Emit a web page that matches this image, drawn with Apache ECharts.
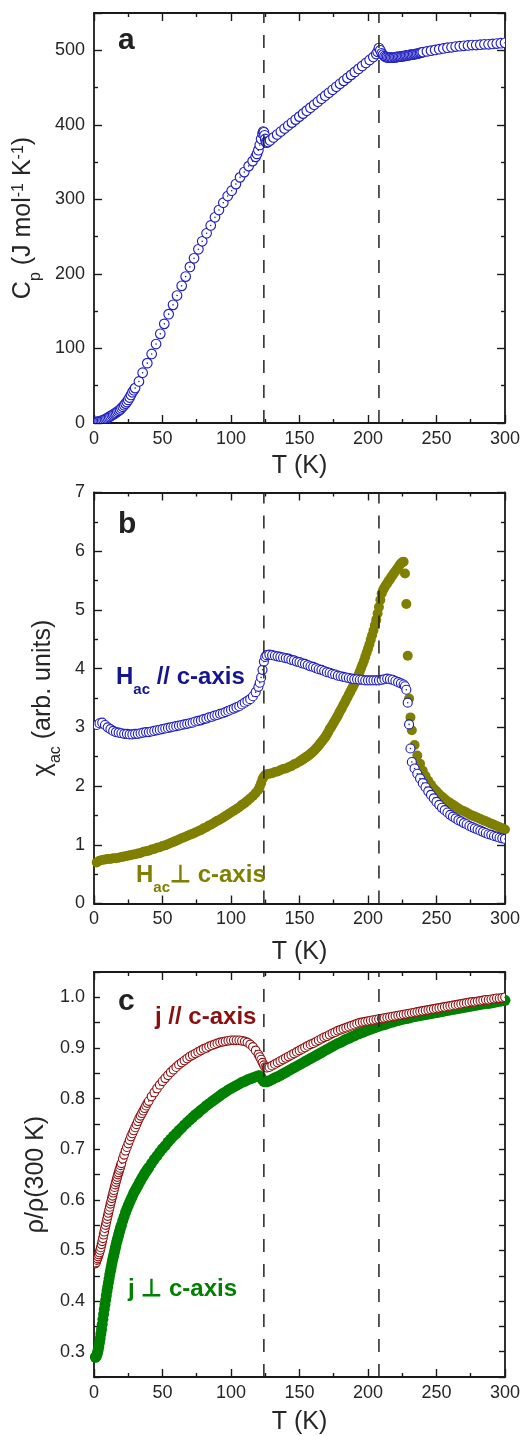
<!DOCTYPE html>
<html><head><meta charset="utf-8">
<script src="https://cdn.jsdelivr.net/npm/echarts@6/dist/echarts.min.js"></script>
<style>html,body{margin:0;padding:0;background:#fff;overflow:hidden}#c{width:523px;height:1436px}.probe{position:absolute;left:-3000px;top:0;width:523px;height:1436px}</style>
</head><body><div id="c"></div>
<script>
// ---------- DATA ----------
const transitionT = [124, 208];
const cpTicks = [0, 100, 200, 300, 400, 500];
const rhoMajorTicks = [0.3, 0.4, 0.5, 0.6, 0.7, 0.8, 0.9, 1.0];

// panel a : heat capacity
const tempA = [1,2,3,4,5,6,7,8,9,10,11,12,13,14,15,16,17,18,19,20,21,22,23,24,25,26,27,28,29,30,
32.8,35.5,38.9,42.1,45.3,48.4,51.3,54.5,57.7,60.6,64,66.9,70,73,76.2,79,82.2,85.2,88.3,91.2,94.4,97.6,100.5,103.6,106.6,109.7,112.9,115.8,
118,119,120,121,122,123,123.5,124,124.5,125,125.5,126,127,128.5,
131,133.7,136.4,139.1,141.8,144.5,147.2,149.9,152.6,155.3,158,160.7,163.4,166.1,168.8,171.5,174.2,176.9,179.6,182.3,185,187.7,190.4,193.1,195.8,198.5,201.2,203.9,
206,207,208,209,210,211,212,213,214,215,216,217,218,219,220,221,222,223,224,225,226,227,228,229,230,231,232,233,234,235,236,237,238,239,240,
243,246,249,252,255,258,261,264,267,270,273,276,279,282,285,288,291,294,297,300];
const cpA = [1.2,1.5,1.8,2.2,2.7,3.3,4.0,4.9,5.9,7.0,8.1,9.2,10.3,11.4,12.6,13.8,15.0,16.4,18.0,19.8,21.7,23.8,26.0,28.3,31.0,34.2,37.6,41.2,44.0,46.8,
55.7,67.5,80.3,92.6,105.9,119.6,133,146,158.5,171,184,196.4,209.4,221,233,243.8,254.5,265,276,285.7,295.5,304.5,311.6,320.5,329.5,336.6,344.6,351.3,
357,361,366,373,381,388,391,390,386,381,377,376,377,379,
383,387,391,395,399,403,407,411,415,419,423,427,431,435,439,443,447,451,455,459,463,467,471,475,479,483,487,491,
495,498,503,500,496,494,492,491,490.5,490,490,490,490,490.5,490.5,491,491,491.5,491.5,492,492,492.5,493,493,493.5,494,494,494.5,495,495,495.5,496,496.5,497,497.5,
498.5,499.5,500.5,501.5,502.5,503.5,504,505,505.5,506,506.5,507,507,507.5,508,508,508.5,509,509.5,510];

// panel b : ac susceptibility, H // c
const tempPara = [2,4,6,8,10,12,14,16,18,20,22,24,26,28,30,32,34,36,38,40,42,44,46,48,50,52,54,56,58,60,62,64,66,68,70,72,74,76,78,80,82,84,86,88,90,92,94,96,98,100,102,104,106,108,110,112,114,116,118,120,
121,122,123,124,125,126,
128,130,132,134,136,138,140,142,144,146,148,150,152,154,156,158,160,162,164,166,168,170,172,174,176,178,180,182,184,186,188,190,192,194,196,198,200,202,204,206,208,210,212,214,216,218,220,222,224,226,
227,228,229,230,231,232,
234,236,238,240,242,244,246,248,250,252,254,256,258,260,262,264,266,268,270,272,274,276,278,280,282,284,286,288,290,292,294,296,298,300];
const chiPara = [3.04,3.07,3.08,3.04,3.00,2.97,2.94,2.92,2.91,2.90,
2.89,2.89,2.88,2.88,2.89,2.89,2.90,2.91,2.92,2.92,
2.93,2.94,2.95,2.96,2.97,2.98,2.99,3.00,3.01,3.02,
3.03,3.04,3.05,3.06,3.07,3.08,3.10,3.11,3.12,3.14,
3.15,3.17,3.18,3.20,3.21,3.23,3.24,3.26,3.28,3.30,
3.32,3.34,3.36,3.39,3.42,3.45,3.48,3.53,3.60,3.69,
3.76,3.85,3.98,4.12,4.20,4.23,
4.24,4.23,4.22,4.21,4.20,4.19,4.18,4.17,4.15,4.14,
4.12,4.11,4.09,4.08,4.06,4.04,4.03,4.01,3.99,3.98,
3.96,3.94,3.93,3.91,3.90,3.88,3.87,3.86,3.85,3.84,
3.83,3.82,3.82,3.81,3.81,3.80,3.80,3.80,3.80,3.80,
3.80,3.81,3.82,3.83,3.82,3.81,3.79,3.77,3.75,3.73,
3.70,3.64,3.42,3.05,2.64,2.41,
2.30,2.21,2.13,2.05,1.98,1.91,1.85,1.79,1.73,1.68,
1.63,1.59,1.55,1.51,1.48,1.45,1.42,1.40,1.37,1.35,
1.32,1.30,1.28,1.26,1.24,1.22,1.20,1.18,1.17,1.15,
1.14,1.12,1.11,1.10];
// panel b : H perpendicular to c
const tempPerp = [2,4,6,8,10,12,14,16,18,20,22,24,26,28,30,32,34,36,38,40,42,44,46,48,50,52,54,56,58,60,62,64,66,68,70,72,74,76,78,80,82,84,86,88,90,92,94,96,98,100,102,104,106,108,110,112,114,116,118,120,
121,122,123,124,125,126,
128,130,132,134,136,138,140,142,144,146,148,
150,151,152,153,154,155,156,157,158,159,160,161,162,163,164,165,166,167,168,169,170,171,172,173,174,175,176,177,178,179,180,181,182,183,184,185,186,187,188,189,190,191,192,193,194,195,196,197,198,199,200,201,202,203,204,205,206,207,208,209,210,211,212,213,214,215,216,217,218,219,220,221,222,223,224,225,226,
227,228,229,230,231,232,
234,236,238,240,242,244,246,248,250,252,254,256,258,260,262,264,266,268,270,272,274,276,278,280,282,284,286,288,290,292,294,296,298,300];
const chiPerp = [0.70,0.73,0.74,0.75,0.76,0.76,0.77,0.77,0.78,0.79,
0.80,0.81,0.82,0.83,0.84,0.85,0.86,0.88,0.89,0.90,
0.92,0.93,0.95,0.96,0.98,0.99,1.01,1.03,1.05,1.07,
1.09,1.11,1.13,1.15,1.17,1.19,1.21,1.23,1.25,1.28,
1.30,1.33,1.35,1.38,1.41,1.43,1.46,1.49,1.52,1.55,
1.58,1.61,1.64,1.68,1.71,1.75,1.79,1.83,1.88,1.94,
1.99,2.05,2.12,2.16,2.19,2.20,
2.21,2.22,2.24,2.25,2.27,2.29,2.30,2.32,2.34,2.37,2.39,
2.42,2.43,2.45,2.46,2.48,2.50,2.51,2.53,2.55,2.57,
2.59,2.61,2.64,2.66,2.69,2.72,2.75,2.78,2.81,2.84,
2.88,2.92,2.97,3.00,3.04,3.08,3.12,3.16,3.20,3.25,
3.29,3.33,3.38,3.42,3.47,3.51,3.56,3.60,3.65,3.69,
3.74,3.79,3.84,3.89,3.95,4.01,4.07,4.13,4.20,4.27,
4.34,4.41,4.49,4.57,4.65,4.74,4.83,4.94,5.05,5.17,
5.28,5.34,5.38,5.42,5.45,5.49,5.52,5.56,5.59,5.63,
5.66,5.69,5.72,5.76,5.79,5.81,5.82,
5.62,5.10,4.22,3.49,3.17,2.95,
2.70,2.52,2.38,2.26,2.17,2.09,2.02,1.96,1.91,1.86,
1.82,1.78,1.74,1.71,1.68,1.65,1.62,1.59,1.57,1.55,
1.52,1.50,1.48,1.46,1.44,1.42,1.40,1.38,1.36,1.34,
1.32,1.30,1.28,1.26];

// panel c : normalised resistivity
const tempC = [1,1.5,2,2.5,3,3.5,4,4.5,5,5.5,6,6.5,7,7.5,8,8.5,9,9.5,10,10.5,11,11.5,12,12.5,13,13.5,14,14.5,15,15.5,16,16.5,17,17.5,18,18.5,19,19.5,20,
21,22,23,24,25,26,27,28,29,30,31,32,33,34,35,36,37,38,39,40,
42,44,46,48,50,52,54,56,58,60,62,64,66,68,70,72,74,76,78,80,82,84,86,88,90,92,94,96,98,100,102,104,106,108,110,112,114,116,118,120,
121,122,123,124,125,126,
128,130,132,134,136,138,140,142,144,146,148,150,152,154,156,158,160,162,164,166,168,170,172,174,176,178,180,182,184,186,188,190,192,194,196,198,200,202,204,206,208,210,212,214,216,218,220,222,224,226,228,230,232,234,236,238,240,242,244,246,248,250,252,254,256,258,260,262,264,266,268,270,272,274,276,278,280,282,284,286,288,290,292,294,296,298,300];
const rhoPara = [0.474,0.476,0.481,0.484,0.488,0.492,0.496,0.501,0.506,0.512,0.518,0.524,0.531,0.537,0.544,0.550,0.556,0.562,0.568,0.574,
0.580,0.586,0.592,0.597,0.603,0.608,0.614,0.619,0.625,0.630,0.635,0.640,0.645,0.650,0.654,0.659,0.663,0.668,0.672,
0.681,0.689,0.697,0.704,0.711,0.718,0.725,0.731,0.737,0.743,0.749,0.755,0.761,0.766,0.771,0.776,0.781,0.786,0.791,0.795,
0.804,0.812,0.820,0.827,0.834,0.840,0.846,0.852,0.857,0.862,
0.867,0.871,0.875,0.879,0.883,0.886,0.889,0.892,0.895,0.898,
0.900,0.903,0.905,0.907,0.909,0.911,0.912,0.913,0.914,0.915,
0.915,0.915,0.915,0.914,0.913,0.911,0.907,0.902,0.895,0.887,
0.882,0.877,0.871,0.866,0.862,0.861,
0.862,0.865,0.868,0.871,0.874,0.877,0.880,0.883,0.886,0.889,
0.892,0.895,0.898,0.901,0.904,0.907,0.909,0.912,0.915,0.918,
0.921,0.923,0.926,0.929,0.931,0.934,0.936,0.938,0.940,0.942,
0.944,0.946,0.948,0.950,0.951,0.952,0.953,0.954,0.955,0.956,
0.957,0.958,0.959,0.960,0.961,0.962,0.963,0.964,0.965,0.966,
0.967,0.968,0.969,0.970,0.971,0.972,0.973,0.974,0.975,0.976,
0.977,0.978,0.979,0.980,0.981,0.982,0.983,0.984,0.985,0.986,
0.987,0.988,0.989,0.990,0.991,0.991,0.992,0.993,0.994,0.995,
0.995,0.996,0.997,0.998,0.998,0.999,1.000];
const rhoPerp = [0.289,0.290,0.293,0.297,0.303,0.310,0.318,0.326,0.335,0.344,0.354,0.364,0.374,0.384,0.393,0.402,0.411,0.420,0.428,0.436,
0.444,0.452,0.459,0.466,0.473,0.480,0.486,0.492,0.498,0.504,0.510,0.516,0.521,0.526,0.531,0.536,0.541,0.546,0.550,
0.559,0.567,0.575,0.582,0.589,0.595,0.601,0.607,0.613,0.618,0.623,0.628,0.633,0.638,0.643,0.647,0.652,0.656,0.660,0.664,
0.672,0.680,0.687,0.694,0.701,0.707,0.714,0.720,0.726,0.731,
0.737,0.742,0.748,0.753,0.758,0.763,0.768,0.772,0.777,0.781,
0.786,0.790,0.794,0.798,0.802,0.806,0.810,0.813,0.817,0.820,
0.823,0.826,0.829,0.832,0.834,0.837,0.839,0.841,0.843,0.845,
0.845,0.842,0.837,0.834,0.833,0.833,
0.835,0.838,0.841,0.843,0.846,0.849,0.852,0.855,0.858,0.861,
0.864,0.867,0.870,0.873,0.876,0.879,0.882,0.885,0.888,0.891,
0.894,0.897,0.900,0.903,0.906,0.909,0.911,0.914,0.917,0.919,
0.922,0.924,0.927,0.929,0.931,0.933,0.935,0.937,0.939,0.941,
0.943,0.945,0.946,0.948,0.950,0.951,0.953,0.954,0.956,0.957,
0.958,0.959,0.961,0.962,0.963,0.964,0.965,0.966,0.967,0.968,
0.969,0.970,0.971,0.972,0.973,0.974,0.975,0.976,0.977,0.978,
0.979,0.980,0.981,0.982,0.983,0.984,0.985,0.986,0.987,0.988,
0.988,0.989,0.990,0.991,0.992,0.993,0.994];

// ---------- STYLE / LAYOUT ----------
const FONT = '"Liberation Sans", Arial, Helvetica, sans-serif';
const AX = '#1a1a1a';
const TXT = '#262626';
const C_BLUE = '#2121c2', C_BLUE_T = '#15158f';
const C_OLIVE = '#7f7f00';
const C_RED = '#8e1414', C_RED_T = '#8b0f0f';
const C_GREEN = '#008000';

const grids = [
  { left: 94, right: 18, top: 13, height: 410 },
  { left: 94, right: 18, top: 492.5, height: 411 },
  { left: 94, right: 18, top: 972, height: 410 }
];
const xNameGap = [31, 36, 33];

const mctx = document.createElement('canvas').getContext('2d');
function tw(txt, font) { mctx.font = font; return mctx.measureText(txt).width; }

function xa(gi, pos) {
  return {
    gridIndex: gi, type: 'value', min: 0, max: 300, interval: 50, position: pos,
    axisLine: { show: true, onZero: false, lineStyle: { color: AX, width: 1.8 } },
    axisTick: { show: true, inside: true, length: 8, lineStyle: { color: AX, width: 1.4 } },
    minorTick: { show: true, splitNumber: 2, length: 4, lineStyle: { color: AX, width: 1.4 } },
    axisLabel: { show: pos === 'bottom', color: TXT, fontSize: 18, fontFamily: FONT, margin: 7 },
    splitLine: { show: false },
    name: pos === 'bottom' ? 'T (K)' : '', nameLocation: 'middle', nameGap: xNameGap[gi],
    nameTextStyle: { color: TXT, fontSize: 25, fontFamily: FONT }
  };
}
function nameRich() {
  return {
    n: { fontSize: 25, fontFamily: FONT, color: TXT, lineHeight: 25, verticalAlign: 'top' },
    sub: { fontSize: 16, fontFamily: FONT, color: TXT, lineHeight: 16, verticalAlign: 'top', padding: [17, 0, 0, 0] },
    sup: { fontSize: 16, fontFamily: FONT, color: TXT, lineHeight: 16, verticalAlign: 'top' }
  };
}
function ya(f, gi, pos, min, max, interval, name, nameGap, echLabels) {
  const ax = {
    gridIndex: gi, type: 'value', min: min, max: max, interval: interval, position: pos,
    axisLine: { show: true, onZero: false, lineStyle: { color: AX, width: 1.8 } },
    axisTick: { show: true, inside: true, length: 8, lineStyle: { color: AX, width: 1.4 } },
    minorTick: { show: true, splitNumber: 2, length: 4, lineStyle: { color: AX, width: 1.4 } },
    axisLabel: { show: pos === 'left' && echLabels, color: TXT, fontSize: 18, fontFamily: FONT, margin: 9 },
    splitLine: { show: false }
  };
  if (echLabels && max % interval !== 0) ax.axisLabel.showMaxLabel = false;
  if (pos === 'left' && f.richNames) {
    ax.name = name; ax.nameLocation = 'middle'; ax.nameGap = nameGap;
    ax.nameTextStyle = { color: TXT, fontSize: 25, fontFamily: FONT, rich: nameRich() };
  }
  return ax;
}
function rhoAxis(f, pos) {
  const ax = {
    gridIndex: 2, type: 'value', min: 0.25, max: 1.05, interval: 0.05, position: pos,
    axisLine: { show: true, onZero: false, lineStyle: { color: AX, width: 1.8 } },
    axisTick: { show: true, inside: true, length: 6, lineStyle: { color: AX, width: 1.4 } },
    splitLine: { show: false },
    axisLabel: { show: false }
  };
  if (pos === 'left' && f.echLabels) {
    ax.axisLabel = { show: true, color: TXT, fontSize: 18, fontFamily: FONT, margin: 9,
      customValues: rhoMajorTicks,
      formatter: function (v) { const s = Math.round(v * 100) / 100; return s % 1 === 0 ? s.toFixed(1) : String(s); } };
  }
  if (pos === 'left') {
    ax.name = 'ρ/ρ(300 K)'; ax.nameLocation = 'middle'; ax.nameGap = 35;
    ax.nameTextStyle = { color: TXT, fontSize: 25, fontFamily: FONT };
  }
  return ax;
}

// ---------- SERIES ----------
function openCircles(xi, yi, xs, ys, color, r) {
  return {
    type: 'custom', xAxisIndex: xi, yAxisIndex: yi, silent: true, z: 3,
    encode: { x: 0, y: 1 },
    data: xs.map((t, i) => [t, ys[i]]),
    renderItem: function (params, api) {
      const p = api.coord([api.value(0), api.value(1)]);
      const cs = params.coordSys;
      return {
        type: 'group',
        clipPath: { type: 'rect', shape: { x: cs.x, y: cs.y, width: cs.width, height: cs.height } },
        children: [
          { type: 'circle', shape: { cx: p[0], cy: p[1], r: r }, style: { fill: '#fff', stroke: color, lineWidth: 1.15 } },
          { type: 'circle', shape: { cx: p[0], cy: p[1], r: 0.8 }, style: { fill: color } }
        ]
      };
    }
  };
}
function filledCircles(xi, yi, xs, ys, color, size) {
  return {
    type: 'scatter', xAxisIndex: xi, yAxisIndex: yi, silent: true, z: 2,
    symbol: 'circle', symbolSize: size, itemStyle: { color: color, opacity: 1 },
    data: xs.map((t, i) => [t, ys[i]])
  };
}
function dashLines(xi, yi, ymin, ymax) {
  return transitionT.map(t => ({
    type: 'line', xAxisIndex: xi, yAxisIndex: yi, silent: true, z: 6,
    showSymbol: false, symbol: 'none',
    lineStyle: { color: '#222', width: 1.5, type: [13, 12] },
    data: [[t, ymin], [t, ymax]]
  }));
}
function makeSeries() {
  return [].concat(
    [openCircles(0, 0, tempA, cpA, C_BLUE, 4.8)],
    dashLines(0, 0, 0, 550),
    [filledCircles(2, 2, tempPerp, chiPerp, C_OLIVE, 10)],
    [openCircles(2, 2, tempPara, chiPara, C_BLUE, 4.5)],
    dashLines(2, 2, 0, 7),
    [filledCircles(4, 4, tempC, rhoPerp, C_GREEN, 11)],
    [openCircles(4, 4, tempC, rhoPara, C_RED, 4.3)],
    dashLines(4, 4, 0.25, 1.05)
  );
}

const cpName = '{n|C}{sub|p}{n| (J mol}{sup|-1}{n| K}{sup|-1}{n|)}';
const chiName = '{n|χ}{sub|ac}{n| (arb. units)}';
function makeOption(f) {
  return {
    animation: false,
    backgroundColor: '#fff',
    textStyle: { fontFamily: FONT },
    grid: grids,
    xAxis: [xa(0, 'bottom'), xa(0, 'top'), xa(1, 'bottom'), xa(1, 'top'), xa(2, 'bottom'), xa(2, 'top')],
    yAxis: [
      ya(f, 0, 'left', 0, 550, 100, cpName, 38, f.echLabels), ya(f, 0, 'right', 0, 550, 100, '', 0, f.echLabels),
      ya(f, 1, 'left', 0, 7, 1, chiName, 30, true), ya(f, 1, 'right', 0, 7, 1, '', 0, true),
      rhoAxis(f, 'left'), rhoAxis(f, 'right')
    ],
    series: makeSeries()
  };
}

// ---------- ANNOTATIONS / TEXT ----------
const annRich = (color) => ({
  m: { fontSize: 24, fontWeight: 'bold', fontFamily: FONT, fill: color, color: color, lineHeight: 24, verticalAlign: 'top' },
  s: { fontSize: 15, fontWeight: 'bold', fontFamily: FONT, fill: color, color: color, lineHeight: 15, verticalAlign: 'top', padding: [17, 0, 0, 0] }
});
function letter(txt, x, baseline) {
  return { type: 'text', x: x, y: baseline - 10.5, z: 10, silent: true,
    style: { text: txt, fill: '#222', font: 'bold 30px ' + FONT, align: 'left', verticalAlign: 'middle' } };
}
function plain(txt, x, baseline, color) {
  return { type: 'text', x: x, y: baseline - 8.4, z: 10, silent: true,
    style: { text: txt, fill: color, font: 'bold 24px ' + FONT, align: 'left', verticalAlign: 'middle' } };
}
function subAnn(f, x, baseline, a, s, b, color) {
  if (f.richAnn) {
    return [{ type: 'text', x: x, y: baseline - 20.4, z: 10, silent: true,
      style: { text: '{m|' + a + '}{s|' + s + '}{m|' + b + '}', rich: annRich(color), align: 'left', verticalAlign: 'top' } }];
  }
  const fM = 'bold 24px ' + FONT, fS = 'bold 15px ' + FONT;
  const w1 = tw(a, fM), w2 = tw(s, fS);
  return [
    { type: 'text', x: x, y: baseline - 8.4, z: 10, silent: true, style: { text: a, fill: color, font: fM, align: 'left', verticalAlign: 'middle' } },
    { type: 'text', x: x + w1, y: baseline + 9.3 - 5.3, z: 10, silent: true, style: { text: s, fill: color, font: fS, align: 'left', verticalAlign: 'middle' } },
    { type: 'text', x: x + w1 + w2, y: baseline - 8.4, z: 10, silent: true, style: { text: b, fill: color, font: fM, align: 'left', verticalAlign: 'middle' } }
  ];
}
function nameGroup(cx, cy, pieces) {
  let w = 0;
  pieces.forEach(p => { p.w = tw(p.t, p.fs + 'px ' + FONT); w += p.w; });
  let x = -w / 2;
  const children = [];
  pieces.forEach(p => {
    children.push({ type: 'text', x: x, y: p.dy - 0.35 * p.fs,
      style: { text: p.t, fill: TXT, font: p.fs + 'px ' + FONT, align: 'left', verticalAlign: 'middle' } });
    x += p.w;
  });
  return { type: 'group', x: cx, y: cy, rotation: Math.PI / 2, silent: true, z: 10, children: children };
}
function buildGraphic(chart, f) {
  let g = [letter('a', 118, 51.7), letter('b', 118, 535.7), letter('c', 118, 1012.3)];
  g = g.concat(subAnn(f, 116, 686, 'H', 'ac', ' // c-axis', C_BLUE_T));
  g = g.concat(subAnn(f, 136, 883.4, 'H', 'ac', '⊥ c-axis', C_OLIVE));
  g.push(plain('j // c-axis', 155, 1026, C_RED_T));
  g.push(plain('j ⊥ c-axis', 128, 1298, C_GREEN));
  if (!f.richNames) {
    g.push(nameGroup(35, 225, [{ t: 'C', fs: 25, dy: 0 }, { t: 'p', fs: 16, dy: 6 }, { t: ' (J mol', fs: 25, dy: 0 },
      { t: '-1', fs: 16, dy: -10 }, { t: ' K', fs: 25, dy: 0 }, { t: '-1', fs: 16, dy: -10 }, { t: ')', fs: 25, dy: 0 }]));
    g.push(nameGroup(55, 712, [{ t: 'χ', fs: 25, dy: 0 }, { t: 'ac', fs: 16, dy: 6 }, { t: ' (arb. units)', fs: 25, dy: 0 }]));
  }
  if (!f.echLabels) {
    cpTicks.forEach(v => {
      const p = chart.convertToPixel({ xAxisIndex: 0, yAxisIndex: 0 }, [0, v]);
      g.push({ type: 'text', x: p[0] - 9, y: p[1], z: 10, silent: true,
        style: { text: String(v), fill: TXT, font: '18px ' + FONT, align: 'right', verticalAlign: 'middle' } });
    });
    rhoMajorTicks.forEach(v => {
      const p = chart.convertToPixel({ xAxisIndex: 4, yAxisIndex: 4 }, [0, v]);
      g.push({ type: 'text', x: p[0] - 9, y: p[1], z: 10, silent: true,
        style: { text: v.toFixed(1), fill: TXT, font: '18px ' + FONT, align: 'right', verticalAlign: 'middle' } });
    });
  }
  return g;
}
function render(chart, f) {
  chart.setOption(makeOption(f), true);
  chart.setOption({ graphic: buildGraphic(chart, f) });
}
function ticksVisible(chart) {
  try {
    chart.getZr().refreshImmediately();
    const cv = chart.getDom().querySelector('canvas');
    const ctx = cv.getContext('2d');
    const pts = [[499, 551], [500, 551], [501, 550], [500, 552], [162, 899], [162, 898], [163, 899], [98, 551]];
    return pts.some(p => { const d = ctx.getImageData(p[0], p[1], 1, 1).data; return d[3] > 0 && d[0] < 150; });
  } catch (e) { return false; }
}

// try the most faithful configuration first; keep the first one whose axis ticks actually paint
const variants = [
  { richNames: true, richAnn: true, echLabels: true },
  { richNames: true, richAnn: false, echLabels: true },
  { richNames: false, richAnn: true, echLabels: true },
  { richNames: false, richAnn: false, echLabels: true },
  { richNames: true, richAnn: true, echLabels: false },
  { richNames: false, richAnn: false, echLabels: false }
];
let chosen = variants[0];
for (const v of variants) {
  const d = document.createElement('div');
  d.className = 'probe';
  document.body.appendChild(d);
  let ok = false;
  try {
    const pc = echarts.init(d, null, { renderer: 'canvas' });
    render(pc, v);
    ok = ticksVisible(pc);
    pc.dispose();
  } catch (e) { ok = false; }
  d.remove();
  if (ok) { chosen = v; break; }
}
const chart = echarts.init(document.getElementById('c'), null, { renderer: 'canvas' });
render(chart, chosen);
</script>
</body></html>
